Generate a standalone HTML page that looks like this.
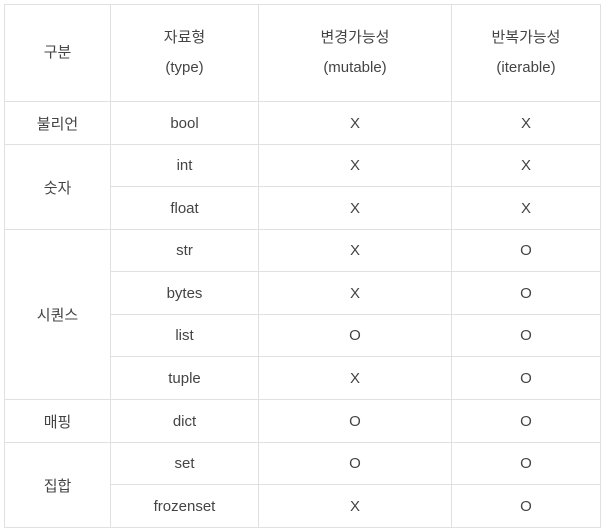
<!DOCTYPE html>
<html><head><meta charset="utf-8"><style>
html,body{margin:0;padding:0;background:#fff;width:604px;height:531px;overflow:hidden}
table{position:absolute;left:4px;top:4px;border-collapse:collapse;table-layout:fixed;font-family:"Liberation Sans","Noto Sans CJK KR",sans-serif;font-size:15px;color:#444}
td{border:1px solid #e0e0e0;text-align:center;vertical-align:middle;padding:0}
.h td{line-height:30px}
</style></head><body>
<table>
<colgroup><col style="width:106px"><col style="width:148px"><col style="width:193px"><col style="width:149px"></colgroup>
<tr class="h" style="height:97px"><td>구분</td><td>자료형<br>(type)</td><td>변경가능성<br>(mutable)</td><td>반복가능성<br>(iterable)</td></tr>
<tr style="height:43px"><td>불리언</td><td>bool</td><td>X</td><td>X</td></tr>
<tr style="height:42px"><td rowspan="2">숫자</td><td>int</td><td>X</td><td>X</td></tr>
<tr style="height:43px"><td>float</td><td>X</td><td>X</td></tr>
<tr style="height:42px"><td rowspan="4">시퀀스</td><td>str</td><td>X</td><td>O</td></tr>
<tr style="height:43px"><td>bytes</td><td>X</td><td>O</td></tr>
<tr style="height:42px"><td>list</td><td>O</td><td>O</td></tr>
<tr style="height:43px"><td>tuple</td><td>X</td><td>O</td></tr>
<tr style="height:43px"><td>매핑</td><td>dict</td><td>O</td><td>O</td></tr>
<tr style="height:42px"><td rowspan="2">집합</td><td>set</td><td>O</td><td>O</td></tr>
<tr style="height:43px"><td>frozenset</td><td>X</td><td>O</td></tr>
</table>
</body></html>
